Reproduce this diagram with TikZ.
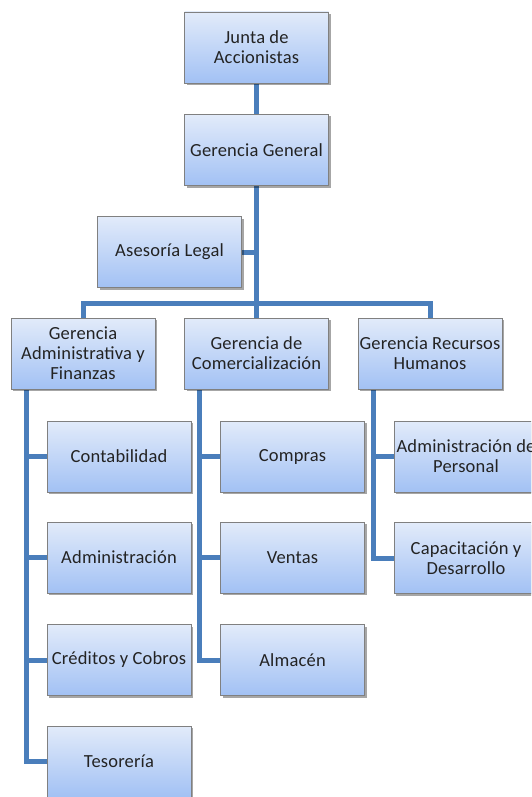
\documentclass[tikz,border=0pt]{standalone}
\usepackage{fontspec}
\setmainfont[LetterSpace=1]{Carlito}
\usetikzlibrary{shadows,backgrounds}

\definecolor{linkblue}{RGB}{74,126,187}
\definecolor{boxtop}{RGB}{226,235,250}
\definecolor{boxbottom}{RGB}{162,193,244}
\definecolor{boxedge}{RGB}{128,128,128}
\definecolor{boxtext}{RGB}{35,35,35}

\tikzset{
  unit/.style={
    draw=boxedge, line width=0.8pt,
    top color=boxtop, bottom color=boxbottom,
    minimum width=144pt, minimum height=71pt,
    inner sep=0pt, align=center, text=boxtext,
    font=\fontsize{18.5}{20}\selectfont,
    drop shadow={shadow xshift=2pt, shadow yshift=-2pt, opacity=0.35, fill=black}
  },
  link/.style={draw=linkblue, line width=5pt, line join=miter, line cap=butt}
}

\begin{document}
\begin{tikzpicture}[x=1pt, y=-1pt]
  \useasboundingbox (0,0) rectangle (531,797);
  \clip (0,0) rectangle (531,797);

  % top of the hierarchy
  \node[unit] (ja)   at (256.5, 47.5) {Junta de\\Accionistas};
  \node[unit] (gg)   at (256.5,150)   {Gerencia General};
  \node[unit] (al)   at (169.5,252)   {Asesoría Legal};

  % the three departments
  \node[unit] (gaf)  at (83,  353.5)  {Gerencia\\Administrativa y\\Finanzas};
  \node[unit] (gc)   at (256.5,353.5) {Gerencia de\\Comercialización};
  \node[unit] (grh)  at (430, 353.5)  {Gerencia Recursos\\Humanos};

  % administration and finance units
  \node[unit] (cont) at (119, 456.5)  {Contabilidad};
  \node[unit] (adm)  at (119, 557.5)  {Administración};
  \node[unit] (cred) at (119, 660)    {Créditos y Cobros};
  \node[unit] (tes)  at (119, 761.5)  {Tesorería};

  % commercial units
  \node[unit] (comp) at (292.5,456.5) {Compras};
  \node[unit] (vent) at (292.5,557.5) {Ventas};
  \node[unit] (alm)  at (292.5,660)   {Almacén};

  % human resources units
  \node[unit] (adp)  at (466, 456.5)  {Administración de\\Personal};
  \node[unit] (cap)  at (466, 558)    {Capacitación y\\Desarrollo};

  % routing points of the connectors
  \coordinate (bus) at (0,303);
  \coordinate (trl) at (26,0);
  \coordinate (trc) at (199.5,0);
  \coordinate (trr) at (373,0);

  \begin{scope}[on background layer]
    \fill[white] (0,0) rectangle (531,797);

    \draw[link] (ja) -- (gg);
    \draw[link] (gg.south) -- (gg.south |- bus);
    \draw[link] (al.east) -- (al.east -| gg.south);
    \draw[link] (gaf.north) -- (gaf.north |- bus) -- (grh.north |- bus) -- (grh.north);
    \draw[link] (gc.north) -- (gc.north |- bus);

    \draw[link] (gaf.south -| trl) -- (trl |- tes.west) -- (tes.west);
    \draw[link] (trl |- cont.west) -- (cont.west);
    \draw[link] (trl |- adm.west) -- (adm.west);
    \draw[link] (trl |- cred.west) -- (cred.west);

    \draw[link] (gc.south -| trc) -- (trc |- alm.west) -- (alm.west);
    \draw[link] (trc |- comp.west) -- (comp.west);
    \draw[link] (trc |- vent.west) -- (vent.west);

    \draw[link] (grh.south -| trr) -- (trr |- cap.west) -- (cap.west);
    \draw[link] (trr |- adp.west) -- (adp.west);
  \end{scope}
\end{tikzpicture}
\end{document}
